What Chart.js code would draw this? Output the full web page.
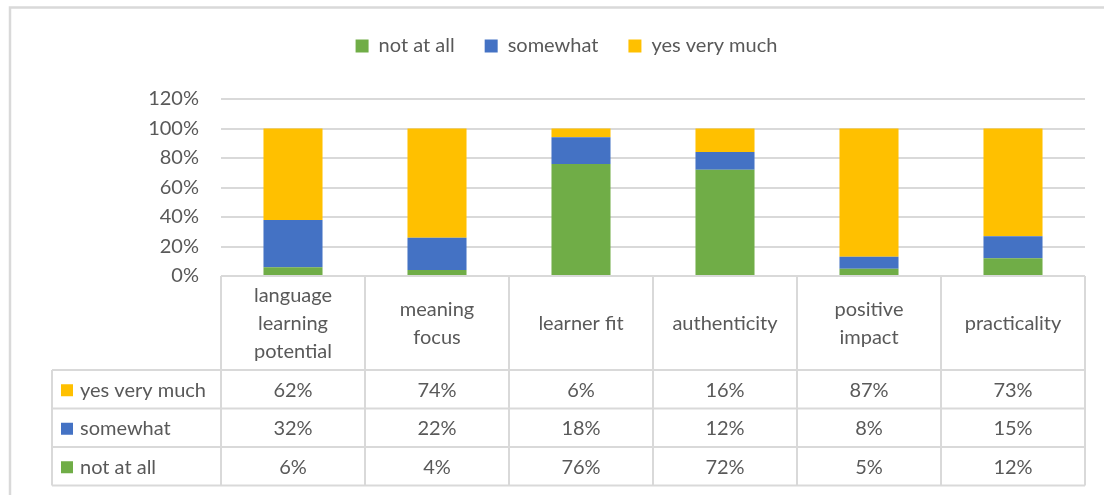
<!DOCTYPE html>
<html>
<head>
<meta charset="utf-8">
<script src="https://cdn.jsdelivr.net/npm/chart.js@4/dist/chart.umd.min.js"></script>
<style>
  html, body { margin: 0; padding: 0; background: #fff; }
  #wrap { width: 1104px; height: 495px; position: relative; }
</style>
</head>
<body>
<div id="wrap"><canvas id="c" width="1104" height="495"></canvas></div>
<script>
// categories, wrapped the way they show in the table header
const categories = [
  ['language', 'learning', 'potential'],
  ['meaning', 'focus'],
  ['learner fit'],
  ['authenticity'],
  ['positive', 'impact'],
  ['practicality'],
];
const notAtAll = [6, 4, 76, 72, 5, 12];
const somewhat = [32, 22, 18, 12, 8, 15];
const yesVeryMuch = [62, 74, 6, 16, 87, 73];
const yMax = 120;
const yStep = 20;

const GREEN = '#70AD47';
const BLUE = '#4472C4';
const YELLOW = '#FFC000';
const GRID = '#D9D9D9';
const TEXT = '#595959';
const FONT = 'Lato, "Open Sans", sans-serif';
const FS = 20;

// table rows, top to bottom (same order as the reference table)
const tableRows = [
  { label: 'yes very much', color: YELLOW, values: yesVeryMuch },
  { label: 'somewhat', color: BLUE, values: somewhat },
  { label: 'not at all', color: GREEN, values: notAtAll },
];

// extra room under the legend so the plot starts lower, and nudge it right
const legendGap = {
  id: 'legendGap',
  beforeInit(chart) {
    const fit = chart.legend.fit;
    chart.legend.fit = function () {
      fit.bind(chart.legend)();
      this.height += 33;
    };
  },
  afterLayout(chart) {
    chart.legend.left += 24;
    chart.legend.right += 24;
  },
};

const dataTable = {
  id: 'dataTable',
  beforeDraw(chart) {
    const ctx = chart.ctx;
    ctx.save();
    ctx.fillStyle = '#fff';
    ctx.fillRect(0, 0, chart.width, chart.height);
    ctx.strokeStyle = GRID;
    ctx.lineWidth = 2.5;
    ctx.strokeRect(10, 7.5, chart.width + 20, chart.height + 20);
    ctx.restore();
  },
  afterDraw(chart) {
    const ctx = chart.ctx;
    const area = chart.chartArea;
    const n = categories.length;
    const colW = (area.right - area.left) / n;
    const top = area.bottom;
    const headH = 94;
    const rowH = 38.5;
    const labelLeft = 52;
    const bottom = top + headH + rowH * tableRows.length;

    ctx.save();
    ctx.strokeStyle = GRID;
    ctx.lineWidth = 2;
    ctx.beginPath();
    ctx.moveTo(area.left, top);
    ctx.lineTo(area.right, top);
    for (let r = 0; r <= tableRows.length; r++) {
      const y = top + headH + r * rowH;
      ctx.moveTo(labelLeft, y);
      ctx.lineTo(area.right, y);
    }
    for (let i = 0; i <= n; i++) {
      const x = area.left + i * colW;
      ctx.moveTo(x, top);
      ctx.lineTo(x, bottom);
    }
    ctx.moveTo(labelLeft, top + headH);
    ctx.lineTo(labelLeft, bottom);
    ctx.stroke();

    ctx.fillStyle = TEXT;
    ctx.font = FS + 'px ' + FONT;
    ctx.textAlign = 'center';
    ctx.textBaseline = 'middle';
    const x = chart.scales.x;
    categories.forEach((lines, i) => {
      const cx = x.getPixelForValue(i);
      const lh = 28;
      const cy = top + headH / 2 + 1;
      lines.forEach((t, k) => {
        ctx.fillText(t, cx, cy + (k - (lines.length - 1) / 2) * lh);
      });
    });

    tableRows.forEach((row, r) => {
      const cy = top + headH + r * rowH + rowH / 2 + 1;
      ctx.fillStyle = row.color;
      ctx.fillRect(61, cy - 6, 12, 12);
      ctx.fillStyle = TEXT;
      ctx.textAlign = 'left';
      ctx.fillText(row.label, 80, cy);
      ctx.textAlign = 'center';
      row.values.forEach((v, i) => {
        ctx.fillText(v + '%', x.getPixelForValue(i), cy);
      });
    });
    ctx.restore();
  },
};

new Chart(document.getElementById('c'), {
  type: 'bar',
  data: {
    labels: categories.map((l) => l.join(' ')),
    datasets: [
      { label: 'not at all', data: notAtAll, backgroundColor: GREEN },
      { label: 'somewhat', data: somewhat, backgroundColor: BLUE },
      { label: 'yes very much', data: yesVeryMuch, backgroundColor: YELLOW },
    ],
  },
  options: {
    responsive: false,
    animation: false,
    devicePixelRatio: 1,
    layout: { padding: { left: 0, right: 19, top: 6, bottom: 219 } },
    datasets: { bar: { categoryPercentage: 1, barPercentage: 0.41, borderWidth: 0 } },
    plugins: {
      tooltip: { enabled: false },
      legend: {
        position: 'top',
        labels: {
          color: TEXT,
          font: { family: FONT, size: FS },
          boxWidth: 13,
          boxHeight: 13,
          padding: 30,
        },
      },
    },
    scales: {
      x: { stacked: true, display: false },
      y: {
        stacked: true,
        min: 0,
        max: yMax,
        afterFit(scale) { scale.width = 221; },
        border: { display: false },
        grid: { color: GRID, lineWidth: 2, drawTicks: false },
        ticks: {
          stepSize: yStep,
          padding: 22,
          color: TEXT,
          font: { family: FONT, size: FS },
          callback: (v) => v + '%',
        },
      },
    },
  },
  plugins: [dataTable, legendGap],
});
</script>
</body>
</html>
